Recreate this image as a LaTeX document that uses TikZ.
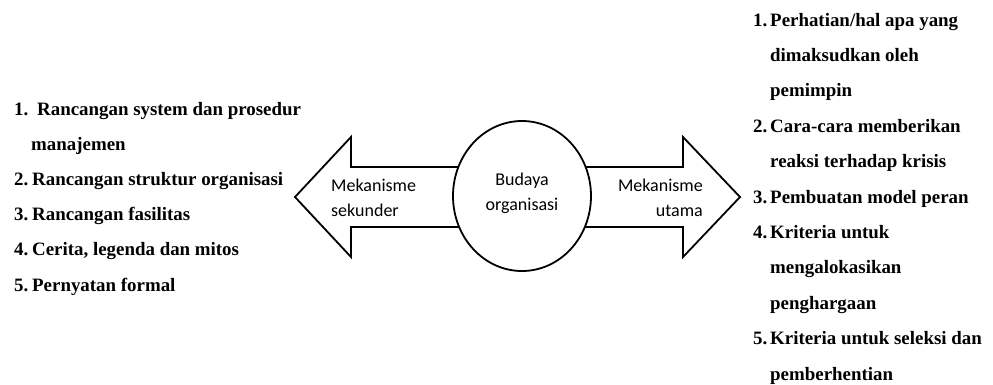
\documentclass[tikz,border=0pt]{standalone}
\usepackage{fontspec}
\usetikzlibrary{shapes.geometric}
\setmainfont{Liberation Serif}
\newfontfamily\labelfont{Carlito}
\begin{document}
\begin{tikzpicture}[x=1pt,y=-1pt,
  listtxt/.style={anchor=base west,inner sep=0pt,font=\bfseries\fontsize{18.9}{20}\selectfont},
  arrowtxt/.style={inner sep=0pt,font=\labelfont\fontsize{18}{22}\selectfont},
  outline/.style={draw=black,line width=1.8pt,line join=miter,fill=white}]
\useasboundingbox (0,0) rectangle (993,384);

% double arrow: left and right block arrows meeting behind the ellipse
\draw[outline] (295,197) -- (351,137) -- (351,167) -- (522,167) -- (522,227)
  -- (351,227) -- (351,257) -- cycle;
\draw[outline] (740,197) -- (683,137) -- (683,167) -- (522,167) -- (522,227)
  -- (683,227) -- (683,257) -- cycle;
\node[outline,ellipse,minimum width=138pt,minimum height=150pt,inner sep=0pt] (core) at (522,196) {};

% labels
\node[arrowtxt,anchor=base] (core1) at (522,185) {Budaya};
\node[arrowtxt,anchor=base] (core2) at (522,210) {organisasi};
\node[arrowtxt,anchor=base west] (sek1) at (331,191) {Mekanisme};
\node[arrowtxt,anchor=base west] (sek2) at (331,216) {sekunder};
\node[arrowtxt,anchor=base east] (uta1) at (703,191) {Mekanisme};
\node[arrowtxt,anchor=base east] (uta2) at (703,216) {utama};

% secondary mechanisms
\node[listtxt] (l1n) at (14,115) {1.};
\node[listtxt] (l1) at (37,115) {Rancangan system dan prosedur};
\node[listtxt] (l1b) at (31,150.7) {manajemen};
\node[listtxt] (l2n) at (14,185) {2.};
\node[listtxt] (l2) at (32,185) {Rancangan struktur organisasi};
\node[listtxt] (l3n) at (14,220) {3.};
\node[listtxt] (l3) at (32,220) {Rancangan fasilitas};
\node[listtxt] (l4n) at (14,255.7) {4.};
\node[listtxt] (l4) at (32,255.7) {Cerita, legenda dan mitos};
\node[listtxt] (l5n) at (14,291.5) {5.};
\node[listtxt] (l5) at (32,291.5) {Pernyatan formal};

% primary mechanisms
\node[listtxt] (r1n) at (753,26) {1.};
\node[listtxt] (r1) at (770,26) {Perhatian/hal apa yang};
\node[listtxt] (r1b) at (770,61.4) {dimaksudkan oleh};
\node[listtxt] (r1c) at (770,96.8) {pemimpin};
\node[listtxt] (r2n) at (753,132.2) {2.};
\node[listtxt] (r2) at (770,132.2) {Cara-cara memberikan};
\node[listtxt] (r2b) at (770,167.6) {reaksi terhadap krisis};
\node[listtxt] (r3n) at (753,203) {3.};
\node[listtxt] (r3) at (770,203) {Pembuatan model peran};
\node[listtxt] (r4n) at (753,238.4) {4.};
\node[listtxt] (r4) at (770,238.4) {Kriteria untuk};
\node[listtxt] (r4b) at (770,273.8) {mengalokasikan};
\node[listtxt] (r4c) at (770,309.2) {penghargaan};
\node[listtxt] (r5n) at (753,344.6) {5.};
\node[listtxt] (r5) at (770,344.6) {Kriteria untuk seleksi dan};
\node[listtxt] (r5b) at (770,380) {pemberhentian};
\end{tikzpicture}
\end{document}
